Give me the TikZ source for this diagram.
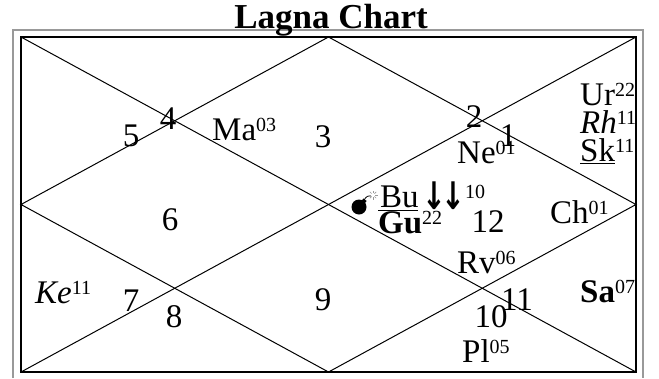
\documentclass[tikz,border=0pt]{standalone}
\usepackage{fontspec}
\setmainfont{Liberation Serif}
\newfontfamily\arrowfont{DejaVu Sans}
\usetikzlibrary{positioning,calc}

\newcommand{\pexp}[1]{\raisebox{9pt}{\normalfont\fontsize{20}{20}\selectfont #1}}

\begin{document}
\begin{tikzpicture}[
    x=1pt, y=-1pt,
    hnum/.style={inner sep=0pt, font=\fontsize{33}{30}\selectfont},
    planet/.style={inner sep=0pt, anchor=base west, font=\fontsize{33}{30}\selectfont},
    frame/.style={draw=black!40, line width=2pt},
    chart/.style={line width=1pt}
]
    \useasboundingbox (0,0) rectangle (659,378);

    % frame and chart lines
    \draw[frame] (13,378) -- (13,30) -- (643,30) -- (643,378);
    \coordinate (tl) at (21,37);
    \coordinate (tr) at (636,37);
    \coordinate (br) at (636,372);
    \coordinate (bl) at (21,372);
    \coordinate (tm) at (328.5,37);
    \coordinate (rm) at (636,204.5);
    \coordinate (bm) at (328.5,372);
    \coordinate (lm) at (21,204.5);
    \draw[chart, line width=1.5pt] (tl) rectangle (br);
    \draw[chart] (tl) -- (br);
    \draw[chart] (tr) -- (bl);
    \draw[chart] (tm) -- (rm) -- (bm) -- (lm) -- cycle;

    \node[inner sep=0pt, anchor=base, font=\bfseries\fontsize{35}{35}\selectfont] (title) at (331,28) {Lagna Chart};

    % house numbers
    \node[hnum] (h1) at (508,136) {1};
    \node[hnum] (h2) at (474,117) {2};
    \node[hnum] (h3) at (323,137) {3};
    \node[hnum] (h4) at (168,119) {4};
    \node[hnum] (h5) at (131,136) {5};
    \node[hnum] (h6) at (170,220) {6};
    \node[hnum] (h7) at (131,301) {7};
    \node[hnum] (h8) at (174,317) {8};
    \node[hnum] (h9) at (323,300) {9};
    \node[hnum] (h10) at (491,317) {10};
    \node[hnum] (h11) at (517,300) {11};
    \node[hnum] (h12) at (488,222) {12};

    % planets
    \node[planet] (ma) at (212,140) {Ma\pexp{03}};
    \node[planet] (ne) at (457,163) {Ne\pexp{01}};
    \node[planet] (ur) at (580,105) {Ur\pexp{22}};
    \node[planet] (rh) at (580,133) {\itshape Rh\pexp{11}};
    \node[planet] (sk) at (580,161) {\underline{Sk}\pexp{11}};
    \node[planet] (bu) at (380,207) {Bu\kern4pt{\arrowfont\bfseries\fontsize{38}{38}\selectfont\raisebox{-2pt}{\scalebox{0.75}[1]{↓\kern-7pt↓}}}\pexp{10}};
    \node[planet] (gu) at (378,233) {\bfseries\rlap{\rule[22pt]{40pt}{1.5pt}}Gu\pexp{22}};
    \node[planet] (ch) at (550,223) {Ch\pexp{01}};
    \node[planet] (rv) at (457,273) {Rv\pexp{06}};
    \node[planet] (ke) at (35,303) {\itshape Ke\pexp{11}};
    \node[planet] (sa) at (580,302) {\bfseries Sa\pexp{07}};
    \node[planet] (pl) at (462,362) {Pl\pexp{05}};

    % bomb beside Bu
    \coordinate (bomb) at (359,207);
    \fill (bomb) circle (7.5);
    \fill[rotate around={-40:(bomb)}] ($(bomb)+(-2,-9.5)$) rectangle ($(bomb)+(2,-6)$);
    \draw[line width=0.8pt] ($(bomb)+(5,-7)$) .. controls ($(bomb)+(8,-11)$) .. ($(bomb)+(12,-11)$);
    \foreach \a in {0,45,...,315}
        \draw[black!40, line width=0.7pt] ($(bomb)+(14,-12)+(\a:2)$) -- ($(bomb)+(14,-12)+(\a:4.5)$);
\end{tikzpicture}
\end{document}
